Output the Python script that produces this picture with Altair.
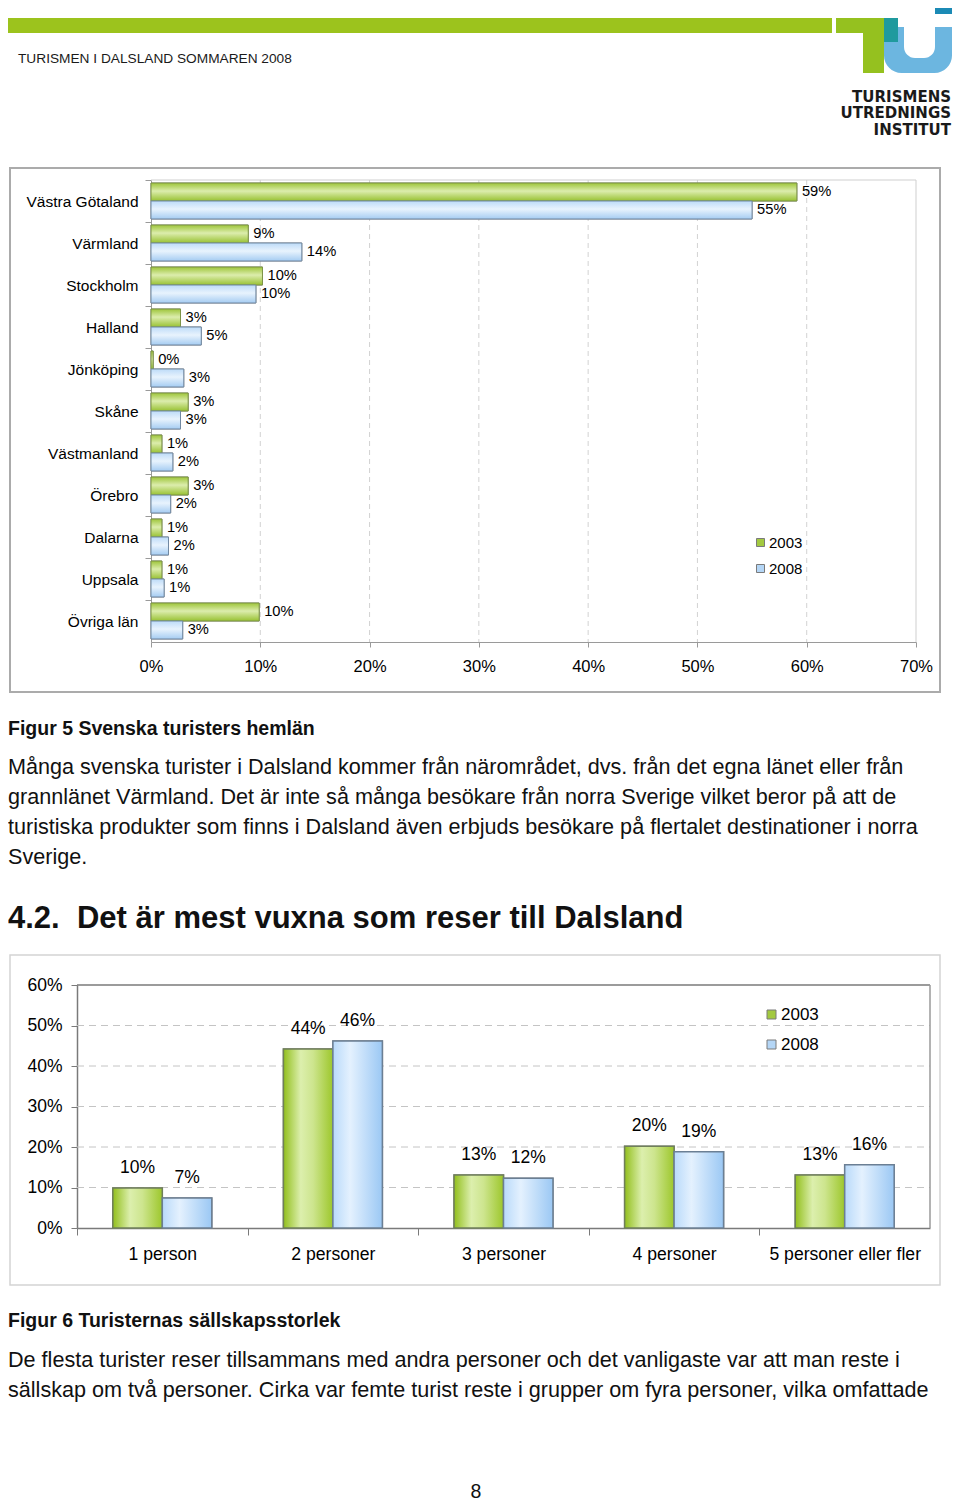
import altair as alt
import pandas as pd

# ---------------- data ----------------
header_title = "TURISMEN I DALSLAND SOMMAREN 2008"
logo_lines = ["TURISMENS", "UTREDNINGS", "INSTITUT"]

years = ["2003", "2008"]

regions = ["Västra Götaland", "Värmland", "Stockholm", "Halland", "Jönköping", "Skåne",
           "Västmanland", "Örebro", "Dalarna", "Uppsala", "Övriga län"]
region_2003 = [59.1, 8.9, 10.2, 2.7, 0.2, 3.4, 1.0, 3.4, 1.0, 1.0, 9.9]
region_2008 = [55.0, 13.8, 9.6, 4.6, 3.0, 2.7, 2.0, 1.8, 1.6, 1.2, 2.9]
region_ticks = [0, 10, 20, 30, 40, 50, 60, 70]

party_sizes = ["1 person", "2 personer", "3 personer", "4 personer", "5 personer eller fler"]
party_2003 = [9.9, 44.2, 13.1, 20.2, 13.1]
party_2008 = [7.4, 46.2, 12.3, 18.8, 15.6]
party_ticks = [0, 10, 20, 30, 40, 50, 60]

fig5_caption = "Figur 5 Svenska turisters hemlän"
para1 = [
    "Många svenska turister i Dalsland kommer från närområdet, dvs. från det egna länet eller från",
    "grannlänet Värmland. Det är inte så många besökare från norra Sverige vilket beror på att de",
    "turistiska produkter som finns i Dalsland även erbjuds besökare på flertalet destinationer i norra",
    "Sverige.",
]
heading = "4.2.\u00a0 Det är mest vuxna som reser till Dalsland"
fig6_caption = "Figur 6 Turisternas sällskapsstorlek"
para2 = [
    "De flesta turister reser tillsammans med andra personer och det vanligaste var att man reste i",
    "sällskap om två personer. Cirka var femte turist reste i grupper om fyra personer, vilka omfattade",
]
page_number = "8"

# ---------------- tables ----------------
df1 = pd.DataFrame({
    "region": regions * 2,
    "year": [years[0]] * len(regions) + [years[1]] * len(regions),
    "value": region_2003 + region_2008,
})
df2 = pd.DataFrame({
    "party": party_sizes * 2,
    "year": [years[0]] * len(party_sizes) + [years[1]] * len(party_sizes),
    "value": party_2003 + party_2008,
})
one = pd.DataFrame({"k": [0]})

# ---------------- style ----------------
W, H = 944, 1494
FONT = "Liberation Sans"
GREEN, BLUE = "#a3c940", "#b4d6f6"
GREEN_STROKE, BLUE_STROKE = "#7d9447", "#7189a2"


def grad(stops, horizontal):
    if horizontal:
        c = dict(x1=0, x2=1, y1=0, y2=0)
    else:
        c = dict(x1=0, x2=0, y1=0, y2=1)
    return alt.LinearGradient(gradient="linear",
                              stops=[alt.GradientStop(color=col, offset=o) for o, col in stops], **c)


def rect(x, x2, y, y2, color, **kw):
    return alt.Chart(one).mark_rect(color=color, **kw).encode(
        x=alt.value(x), x2=alt.value(x2), y=alt.value(y), y2=alt.value(y2))


def frame(x, x2, y, y2, stroke, sw):
    return alt.Chart(one).mark_rect(fill="white", fillOpacity=0, stroke=stroke, strokeWidth=sw).encode(
        x=alt.value(x), x2=alt.value(x2), y=alt.value(y), y2=alt.value(y2))


def text(lines, x, y, size, align="left", weight="normal", font=FONT, lh=30, color="#111111"):
    return alt.Chart(one).mark_text(text=lines, fontSize=size, font=font, align=align,
                                    baseline="alphabetic", fontWeight=weight, lineHeight=lh,
                                    color=color).encode(x=alt.value(x), y=alt.value(y))


pct = "datum.value + '%'"

# ---------------- header ----------------
header = [
    rect(-8, 824, 10, 25, "#9cc31d"),
    rect(828, 889, 10, 25, "#95c11f"),
    rect(855, 876, 10, 65, "#95c11f"),
    alt.Chart(one).mark_rect(color="#6cb6e0", cornerRadiusBottomLeft=20, cornerRadiusBottomRight=20).encode(
        x=alt.value(876), x2=alt.value(944), y=alt.value(30), y2=alt.value(65)),
    rect(876, 896, 19, 40, "#6cb6e0"),
    rect(927, 944, 19, 40, "#6cb6e0"),
    alt.Chart(one).mark_rect(color="white", cornerRadiusBottomLeft=11, cornerRadiusBottomRight=11).encode(
        x=alt.value(896), x2=alt.value(927), y=alt.value(19), y2=alt.value(50)),
    rect(876, 890, 10, 34, "#1f9a9e"),
    rect(927, 944, -6, 6, "#1b8ab5"),
    text(header_title, 10, 55, 13.7, color="#1a1a1a"),
    text(logo_lines, 943, 93.5, 15, align="right", weight="bold", font="DejaVu Sans", lh=16.5,
         color="#1a1a1a"),
]

# ---------------- Figur 5 ----------------
X1_RANGE, Y1_RANGE = [143, 908], [172, 634]
x1s = alt.Scale(domain=[0, 70], range=X1_RANGE, nice=False, zero=True)
y1s = alt.Scale(domain=regions, range=Y1_RANGE, paddingInner=0.143, paddingOuter=0.0715)
yo1s = alt.Scale(domain=years)
c1s = alt.Scale(domain=years, range=[GREEN, BLUE])
half_step1 = (Y1_RANGE[1] - Y1_RANGE[0]) / len(regions) / 2

x1_axis = alt.Axis(orient="bottom", offset=Y1_RANGE[1] - H, values=region_ticks, labelExpr=pct, grid=False,
                   domainColor="#9a9a9a", tickColor="#9a9a9a", tickSize=5, labelFontSize=16.5,
                   labelPadding=11, labelColor="black", labelFlush=False, labelOverlap=False, title=None)
y1_axis = alt.Axis(orient="left", offset=-X1_RANGE[0], grid=False, tickOffset=-half_step1,
                   labelOffset=half_step1, domainColor="#9a9a9a",
                   tickColor="#9a9a9a", tickSize=6, labelFontSize=15.5, labelPadding=7,
                   labelColor="black", title=None)
leg1 = alt.Legend(orient="none", legendX=745, legendY=527, title=None, symbolType="square",
                  symbolSize=64, labelFontSize=15, labelOffset=1, rowPadding=10,
                  symbolStrokeColor="#7a7a7a", symbolStrokeWidth=1, labelColor="black")


def enc1(axes=False):
    return dict(
        x=alt.X("value:Q", scale=x1s, axis=x1_axis if axes else None),
        y=alt.Y("region:N", scale=y1s, axis=y1_axis if axes else None),
        yOffset=alt.YOffset("year:N", scale=yo1s),
    )


fig5 = [
    frame(2, 932, 160, 684, "#ababab", 2),
    alt.Chart(pd.DataFrame({"t": region_ticks[1:-1]})).mark_rule(strokeDash=[5, 4], color="#d2d2d2").encode(
        x=alt.X("t:Q", scale=x1s, axis=None), y=alt.value(Y1_RANGE[0]), y2=alt.value(Y1_RANGE[1])),
    alt.Chart(pd.DataFrame({"t": region_ticks[-1:]})).mark_rule(color="#cfcfcf").encode(
        x=alt.X("t:Q", scale=x1s, axis=None), y=alt.value(Y1_RANGE[0]), y2=alt.value(Y1_RANGE[1])),
    alt.Chart(one).mark_rule(color="#cfcfcf").encode(
        x=alt.X(datum=region_ticks[0], type="quantitative", scale=x1s, axis=None),
        x2=alt.X2(datum=region_ticks[-1]), y=alt.value(Y1_RANGE[0])),
    alt.Chart(df1).mark_bar(stroke="#8a8a8a", strokeWidth=1).encode(
        color=alt.Color("year:N", scale=c1s, legend=leg1), **enc1(True)),
    alt.Chart(df1).transform_filter(alt.datum.year == years[0]).mark_bar(
        color=grad([(0, "#9ec53a"), (0.45, "#dcedad"), (1, "#98c132")], False),
        stroke=GREEN_STROKE, strokeWidth=1).encode(**enc1()),
    alt.Chart(df1).transform_filter(alt.datum.year == years[1]).mark_bar(
        color=grad([(0, "#bddbf8"), (0.45, "#e8f3fd"), (1, "#a5ccf2")], False),
        stroke=BLUE_STROKE, strokeWidth=1).encode(**enc1()),
    alt.Chart(df1).transform_calculate(lbl="format(datum.value, '.0f') + '%'").mark_text(
        align="left", baseline="middle", dx=5, fontSize=14.7, color="black").encode(
        text="lbl:N", **enc1()),
]

# ---------------- Figur 6 ----------------
X2_RANGE, Y2_RANGE = [69, 922], [1220, 977]
x2s = alt.Scale(domain=party_sizes, range=X2_RANGE, paddingInner=0.42, paddingOuter=0.21)
y2s = alt.Scale(domain=[0, 60], range=Y2_RANGE, nice=False, zero=True)
xo2s = alt.Scale(domain=years)
c2s = alt.Scale(domain=years, range=[GREEN, BLUE])
half_step2 = (X2_RANGE[1] - X2_RANGE[0]) / len(party_sizes) / 2

x2_axis = alt.Axis(orient="bottom", offset=Y2_RANGE[0] - H, tickOffset=-half_step2, labelOffset=half_step2,
                   grid=False, domainColor="#7a7a7a",
                   domainWidth=1.5, tickColor="#7a7a7a", tickSize=7, labelFontSize=17.6, labelPadding=10,
                   labelAngle=0, labelColor="black", title=None)
y2_axis = alt.Axis(orient="left", offset=-X2_RANGE[0], values=party_ticks, labelExpr=pct, grid=False,
                   domainColor="#7a7a7a", domainWidth=1.5, tickColor="#7a7a7a", tickSize=6,
                   labelFontSize=17.5, labelPadding=9, labelColor="black", labelOverlap=False, title=None)
leg2 = alt.Legend(orient="none", legendX=755, legendY=998, title=None, symbolType="square",
                  symbolSize=81, labelFontSize=17, labelOffset=1, rowPadding=12,
                  symbolStrokeColor="#7a7a7a", symbolStrokeWidth=1, labelColor="black")


def enc2(axes=False):
    return dict(
        x=alt.X("party:N", scale=x2s, axis=x2_axis if axes else None),
        y=alt.Y("value:Q", scale=y2s, axis=y2_axis if axes else None),
        xOffset=alt.XOffset("year:N", scale=xo2s),
    )


fig6 = [
    frame(2, 932, 947, 1277, "#d4d4d4", 1.5),
    alt.Chart(pd.DataFrame({"t": party_ticks[1:-1]})).mark_rule(strokeDash=[7, 5], color="#c4c4c4").encode(
        y=alt.Y("t:Q", scale=y2s, axis=None), x=alt.value(X2_RANGE[0]), x2=alt.value(X2_RANGE[1])),
    alt.Chart(pd.DataFrame({"t": party_ticks[-1:]})).mark_rule(color="#7a7a7a", strokeWidth=1.5).encode(
        y=alt.Y("t:Q", scale=y2s, axis=None), x=alt.value(X2_RANGE[0]), x2=alt.value(X2_RANGE[1])),
    alt.Chart(one).mark_rule(color="#9a9a9a", strokeWidth=1.5).encode(
        y=alt.Y(datum=party_ticks[0], type="quantitative", scale=y2s, axis=None),
        y2=alt.Y2(datum=party_ticks[-1]), x=alt.value(X2_RANGE[1])),
    alt.Chart(df2).mark_bar(stroke="#8a8a8a", strokeWidth=1.5).encode(
        color=alt.Color("year:N", scale=c2s, legend=leg2), **enc2(True)),
    alt.Chart(df2).transform_filter(alt.datum.year == years[0]).mark_bar(
        color=grad([(0, "#92bf1c"), (0.35, "#dcefad"), (0.6, "#cde58e"), (1, "#9dc72c")], True),
        stroke="#6f7f5a", strokeWidth=1.5).encode(**enc2()),
    alt.Chart(df2).transform_filter(alt.datum.year == years[1]).mark_bar(
        color=grad([(0, "#b9dafa"), (0.35, "#e4f1fe"), (1, "#9bc8f4")], True),
        stroke="#6b7f94", strokeWidth=1.5).encode(**enc2()),
    alt.Chart(df2).transform_calculate(lbl="format(datum.value, '.0f') + '%'").mark_text(
        align="center", baseline="middle", dy=-20, fontSize=17.5, color="black").encode(
        text="lbl:N", **enc2()),
]

# ---------------- body text ----------------
BODY = 21.6
body = [
    text(fig5_caption, 0, 727, 19.5, weight="bold"),
    text(para1, 0, 766, BODY),
    text(heading, 0, 920, 31, weight="bold"),
    text(fig6_caption, 0, 1319, 19.5, weight="bold"),
    text(para2, 0, 1359, BODY),
    text(page_number, 468, 1490, 19.5, align="center"),
]

chart = alt.layer(*(header + fig5 + fig6 + body)).resolve_scale(
    x="independent", y="independent", color="independent",
    xOffset="independent", yOffset="independent",
).properties(
    width=W, height=H, padding=0, autosize=alt.AutoSizeParams(type="none"),
).configure(font=FONT).configure_view(stroke=None)

chart.save("out.html", embed_options={"renderer": "svg", "actions": False})
